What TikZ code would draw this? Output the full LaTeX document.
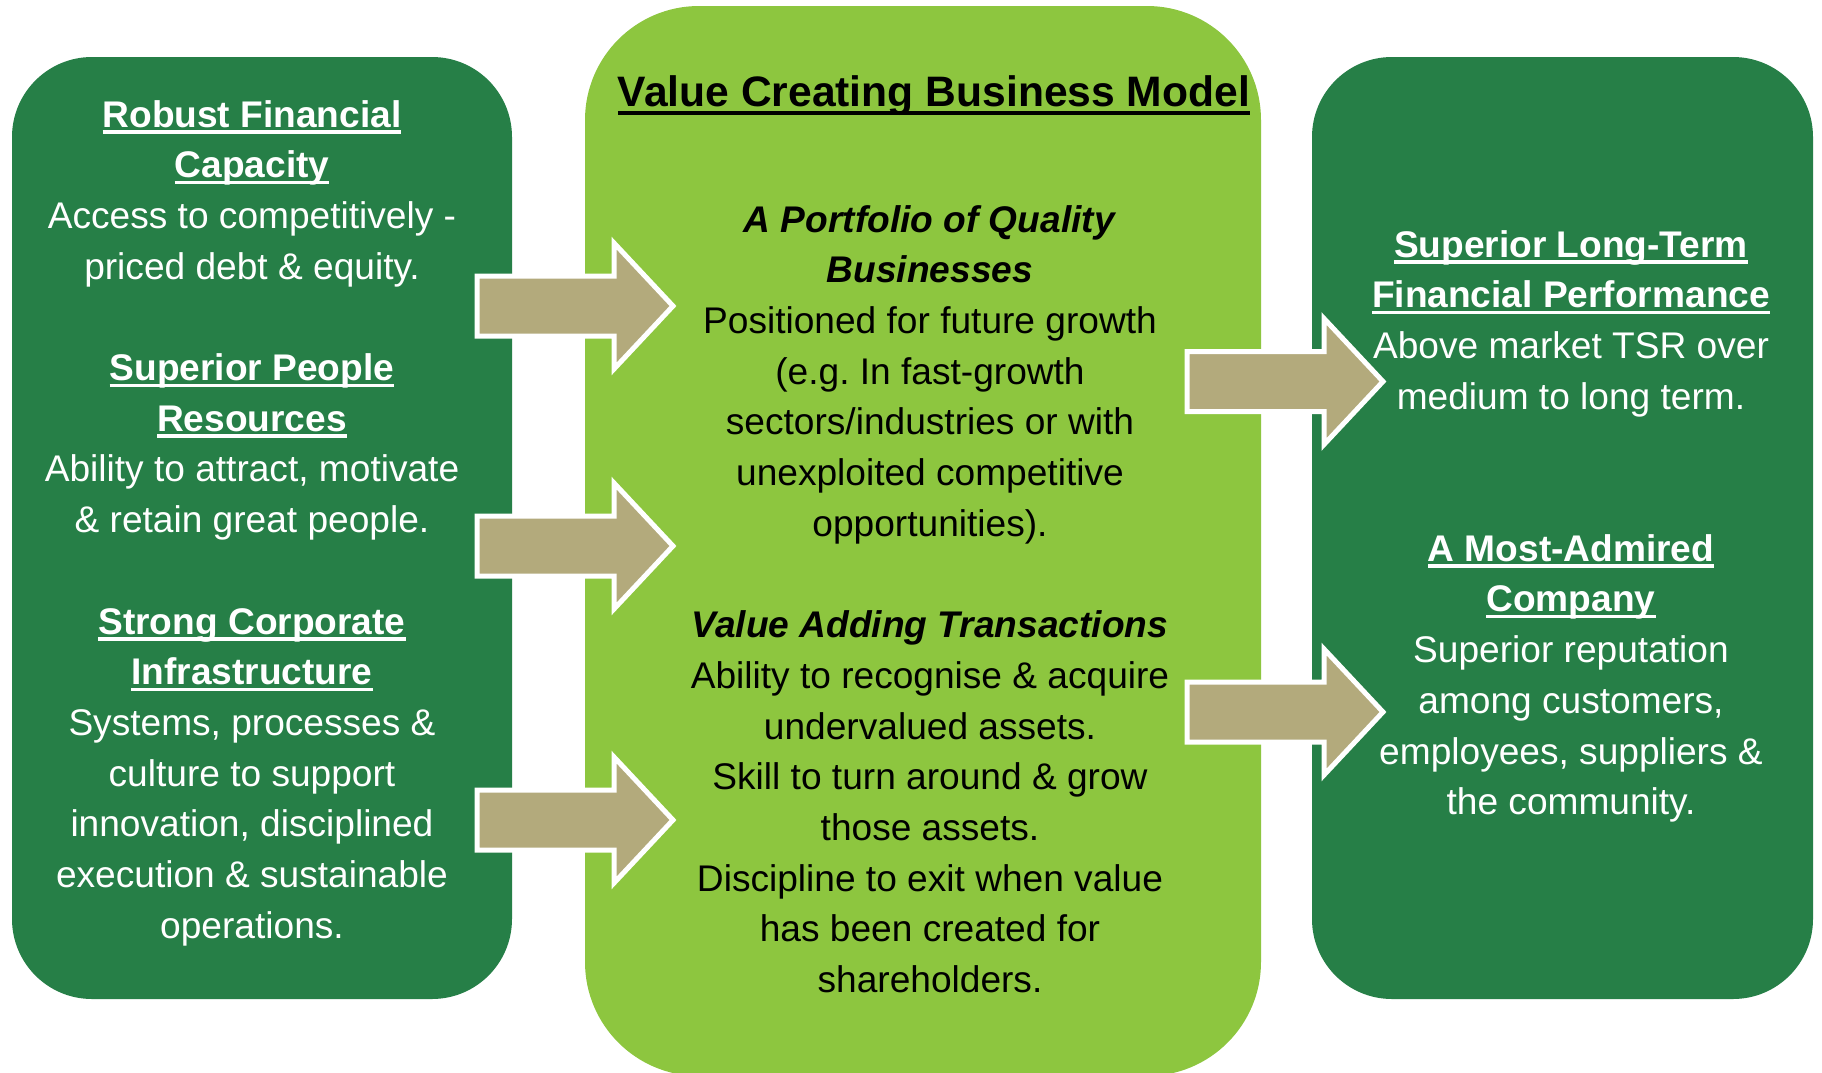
\documentclass[tikz,border=0pt]{standalone}
\usepackage{fontspec}
\setmainfont{Liberation Sans}
\frenchspacing

\definecolor{boxgreen}{RGB}{38,127,71}
\definecolor{leafgreen}{RGB}{141,198,63}
\definecolor{arrowtan}{RGB}{179,170,124}

% underline drawn at a fixed depth, crossing descenders
\newsavebox\ulbox
\newcommand{\headul}[1]{\sbox\ulbox{#1}\rlap{\rule[-3.25pt]{\wd\ulbox}{1.75pt}}\usebox\ulbox}
\newcommand{\titleul}[1]{\sbox\ulbox{#1}\rlap{\rule[-4.5pt]{\wd\ulbox}{2pt}}\usebox\ulbox}
\newcommand{\bodyfont}{\fontsize{18.55pt}{25.35pt}\selectfont}
\newcommand{\blankline}{\mbox{}\\}

\begin{document}
\begin{tikzpicture}[x=0.5pt,y=-0.5pt,
  coltext/.style={anchor=base, inner sep=0pt},
  bigarrow/.style={fill=arrowtan, draw=white, line width=2.5pt, line join=miter}]
\useasboundingbox (0,0) rectangle (1822,1072);
\fill[white] (0,0) rectangle (1822,1072);

% the three panels
\fill[boxgreen, rounded corners=40pt] (12,57) rectangle (512,999);
\fill[boxgreen, rounded corners=40pt] (1312,57) rectangle (1813,999);
\fill[leafgreen, rounded corners=57pt] (585,6) rectangle (1261,1076);

% block arrows between the panels
\foreach \ax/\ay in {477/306, 477/546, 477/820, 1187/381.5, 1187/712}{
  \draw[bigarrow] (\ax,\ay-30) -- ++(137,0) -- ++(0,-33) -- ++(59,63)
    -- ++(-59,63) -- ++(0,-33) -- ++(-137,0) -- cycle;
}

% title of the middle panel
\node[coltext] (title) at (934,106)
  {\fontsize{21.3pt}{24pt}\selectfont\bfseries\titleul{Value Creating Business Model}};

% left panel: capabilities
\node[coltext, text=white] (leftcol) at (252,127) {\parbox[t]{240pt}{\centering\bodyfont
  \textbf{\headul{Robust Financial}}\\
  \textbf{\headul{Capacity}}\\
  Access to competitively -\\
  priced debt \& equity.\\
  \blankline
  \textbf{\headul{Superior People}}\\
  \textbf{\headul{Resources}}\\
  Ability to attract, motivate\\
  \& retain great people.\\
  \blankline
  \textbf{\headul{Strong Corporate}}\\
  \textbf{\headul{Infrastructure}}\\
  Systems, processes \&\\
  culture to support\\
  innovation, disciplined\\
  execution \& sustainable\\
  operations.}};

% middle panel: the business model
\node[coltext, text=black] (midcol) at (930,232) {\parbox[t]{300pt}{\centering\bodyfont
  \textbf{\textit{A Portfolio of Quality}}\\
  \textbf{\textit{Businesses}}\\
  Positioned for future growth\\
  (e.g. In fast-growth\\
  sectors/industries or with\\
  unexploited competitive\\
  opportunities).\\
  \blankline
  \textbf{\textit{Value Adding Transactions}}\\
  Ability to recognise \& acquire\\
  undervalued assets.\\
  Skill to turn around \& grow\\
  those assets.\\
  Discipline to exit when value\\
  has been created for\\
  shareholders.}};

% right panel: outcomes
\node[coltext, text=white] (rightcol) at (1571,257) {\parbox[t]{260pt}{\centering\bodyfont
  \textbf{\headul{Superior Long-Term}}\\
  \textbf{\headul{Financial Performance}}\\
  Above market TSR over\\
  medium to long term.\\
  \blankline
  \blankline
  \textbf{\headul{A Most-Admired}}\\
  \textbf{\headul{Company}}\\
  Superior reputation\\
  among customers,\\
  employees, suppliers \&\\
  the community.}};
\end{tikzpicture}
\end{document}
